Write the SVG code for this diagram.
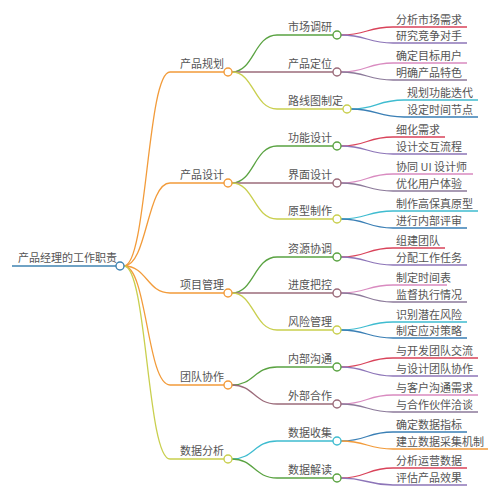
<svg xmlns="http://www.w3.org/2000/svg" width="500" height="500" viewBox="0 0 500 500">
<style>
text{font-family:"Noto Sans CJK SC","Noto Sans",sans-serif;font-size:11px;fill:#555}
path{fill:none;stroke-width:1.3}
circle{fill:#fff;stroke-width:1.4}
.or{stroke:#f29b3a}.yg{stroke:#c9cf4e}.bl{stroke:#3f83b0}.gr{stroke:#5aa342}.mv{stroke:#9b6b7a}
.cy{stroke:#3fbcd0}.rd{stroke:#d9435a}.pu{stroke:#8d75b8}.pk{stroke:#d98bc0}.gp{stroke:#8c7a9a}.db{stroke:#3a7fb5}
</style>
<rect width="500" height="500" fill="#fff"/>
<g id="connectors">
<path class="bl" d="M12,266 H116"/>
<path class="or" d="M124,266 C147,266 147,72 170,72 H224"/>
<path class="or" d="M124,266 C147,266 147,183 170,183 H224"/>
<path class="or" d="M124,266 C147,266 147,293 170,293 H224"/>
<path class="or" d="M124,266 C147,266 147,385 170,385 H224"/>
<path class="yg" d="M124,266 C147,266 147,459 170,459 H224"/>
<path class="gr" d="M232,72 C254,72 254,35 277,35 H333"/>
<path class="mv" d="M232,72 H333"/>
<path class="yg" d="M232,72 C254,72 254,109 277,109 H343"/>
<path class="gr" d="M232,183 C254,183 254,146 277,146 H333"/>
<path class="mv" d="M232,183 H333"/>
<path class="yg" d="M232,183 C254,183 254,219 277,219 H333"/>
<path class="gr" d="M232,293 C254,293 254,257 277,257 H333"/>
<path class="mv" d="M232,293 H333"/>
<path class="yg" d="M232,293 C254,293 254,330 277,330 H333"/>
<path class="gr" d="M232,385 C254,385 254,367 277,367 H333"/>
<path class="mv" d="M232,385 C254,385 254,404 277,404 H333"/>
<path class="cy" d="M232,459 C254,459 254,441 277,441 H333"/>
<path class="gr" d="M232,459 C254,459 254,478 277,478 H333"/>
<path class="rd" d="M341,35 C367,35 367,27 393,27 H467"/>
<path class="pu" d="M341,35 C367,35 367,43 393,43 H467"/>
<path class="pk" d="M341,72 C367,72 367,63 393,63 H467"/>
<path class="gp" d="M341,72 C367,72 367,80 393,80 H467"/>
<path class="cy" d="M351,109 C377,109 377,100 404,100 H478"/>
<path class="db" d="M351,109 C377,109 377,117 404,117 H478"/>
<path class="rd" d="M341,146 C367,146 367,137 393,137 H445"/>
<path class="pu" d="M341,146 C367,146 367,154 393,154 H467"/>
<path class="pk" d="M341,183 C367,183 367,174 393,174 H473"/>
<path class="gp" d="M341,183 C367,183 367,191 393,191 H467"/>
<path class="cy" d="M341,219 C367,219 367,211 393,211 H478"/>
<path class="db" d="M341,219 C367,219 367,228 393,228 H467"/>
<path class="rd" d="M341,257 C367,257 367,248 393,248 H445"/>
<path class="pu" d="M341,257 C367,257 367,265 393,265 H467"/>
<path class="pk" d="M341,293 C367,293 367,285 393,285 H447"/>
<path class="gp" d="M341,293 C367,293 367,302 393,302 H467"/>
<path class="cy" d="M341,330 C367,330 367,322 393,322 H467"/>
<path class="db" d="M341,330 C367,330 367,338 393,338 H467"/>
<path class="rd" d="M341,367 C367,367 367,358 393,358 H478"/>
<path class="pu" d="M341,367 C367,367 367,376 393,376 H478"/>
<path class="pk" d="M341,404 C367,404 367,395 393,395 H478"/>
<path class="gp" d="M341,404 C367,404 367,412 393,412 H478"/>
<path class="db" d="M341,441 C367,441 367,432 393,432 H467"/>
<path class="or" d="M341,441 C367,441 367,449 393,449 H488"/>
<path class="rd" d="M341,478 C367,478 367,468 393,468 H467"/>
<path class="pu" d="M341,478 C367,478 367,485 393,485 H467"/>
</g>
<g id="root"><text x="18" y="262">产品经理的工作职责</text><circle class="bl" cx="120" cy="266" r="4"/></g>
<g id="n-plan"><text x="180" y="68">产品规划</text><circle class="or" cx="228" cy="72" r="4"/></g>
<g id="n-design"><text x="180" y="179">产品设计</text><circle class="or" cx="228" cy="183" r="4"/></g>
<g id="n-project"><text x="180" y="289">项目管理</text><circle class="or" cx="228" cy="293" r="4"/></g>
<g id="n-team"><text x="180" y="381">团队协作</text><circle class="or" cx="228" cy="385" r="4"/></g>
<g id="n-data"><text x="180" y="455">数据分析</text><circle class="yg" cx="228" cy="459" r="4"/></g>
<g id="n-market"><text x="288" y="31">市场调研</text><circle class="gr" cx="337" cy="35" r="4"/></g>
<g id="n-position"><text x="288" y="68">产品定位</text><circle class="mv" cx="337" cy="72" r="4"/></g>
<g id="n-roadmap"><text x="288" y="105">路线图制定</text><circle class="yg" cx="347" cy="109" r="4"/></g>
<g id="n-func"><text x="288" y="142">功能设计</text><circle class="gr" cx="337" cy="146" r="4"/></g>
<g id="n-ui"><text x="288" y="179">界面设计</text><circle class="mv" cx="337" cy="183" r="4"/></g>
<g id="n-proto"><text x="288" y="215">原型制作</text><circle class="yg" cx="337" cy="219" r="4"/></g>
<g id="n-res"><text x="288" y="253">资源协调</text><circle class="gr" cx="337" cy="257" r="4"/></g>
<g id="n-prog"><text x="288" y="289">进度把控</text><circle class="mv" cx="337" cy="293" r="4"/></g>
<g id="n-risk"><text x="288" y="326">风险管理</text><circle class="yg" cx="337" cy="330" r="4"/></g>
<g id="n-internal"><text x="288" y="363">内部沟通</text><circle class="gr" cx="337" cy="367" r="4"/></g>
<g id="n-external"><text x="288" y="400">外部合作</text><circle class="mv" cx="337" cy="404" r="4"/></g>
<g id="n-collect"><text x="288" y="437">数据收集</text><circle class="cy" cx="337" cy="441" r="4"/></g>
<g id="n-interpret"><text x="288" y="474">数据解读</text><circle class="gr" cx="337" cy="478" r="4"/></g>
<g id="leaves">
<text x="396" y="24">分析市场需求</text>
<text x="396" y="40">研究竞争对手</text>
<text x="396" y="60">确定目标用户</text>
<text x="396" y="77">明确产品特色</text>
<text x="407" y="97">规划功能迭代</text>
<text x="407" y="114">设定时间节点</text>
<text x="396" y="134">细化需求</text>
<text x="396" y="151">设计交互流程</text>
<text x="396" y="171">协同 UI 设计师</text>
<text x="396" y="188">优化用户体验</text>
<text x="396" y="208">制作高保真原型</text>
<text x="396" y="225">进行内部评审</text>
<text x="396" y="245">组建团队</text>
<text x="396" y="262">分配工作任务</text>
<text x="396" y="282">制定时间表</text>
<text x="396" y="299">监督执行情况</text>
<text x="396" y="319">识别潜在风险</text>
<text x="396" y="335">制定应对策略</text>
<text x="396" y="355">与开发团队交流</text>
<text x="396" y="373">与设计团队协作</text>
<text x="396" y="392">与客户沟通需求</text>
<text x="396" y="409">与合作伙伴洽谈</text>
<text x="396" y="429">确定数据指标</text>
<text x="396" y="446">建立数据采集机制</text>
<text x="396" y="465">分析运营数据</text>
<text x="396" y="482">评估产品效果</text>
</g>
</svg>
